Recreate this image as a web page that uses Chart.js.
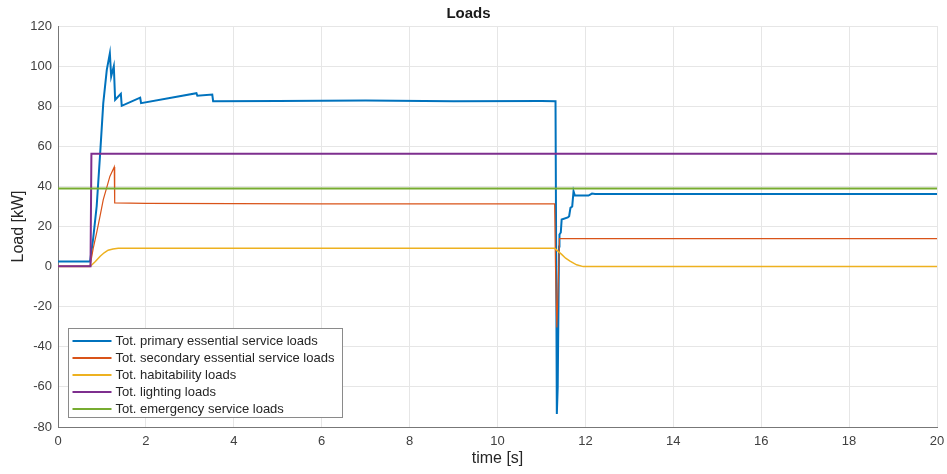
<!DOCTYPE html>
<html>
<head>
<meta charset="utf-8">
<title>Loads</title>
<script src="https://cdn.jsdelivr.net/npm/chart.js@4"></script>
<style>
  html, body { margin: 0; padding: 0; background: #fff; }
  canvas { display: block; }
</style>
</head>
<body>
<canvas id="chart" width="947" height="474"></canvas>
<script>
// time stamps [s] and load values [kW] per series
const primaryT = [0, 0.73, 0.80, 0.88, 0.96, 1.03, 1.11, 1.18, 1.21, 1.27, 1.30, 1.43, 1.45, 1.87, 1.89, 3.15, 3.17, 3.51, 3.53, 5, 7, 9, 11.0, 11.32, 11.35, 11.37, 11.40, 11.41, 11.44, 11.46, 11.60, 11.63, 11.66, 11.70, 11.73, 11.76, 12.07, 12.15, 12.22, 20];
const primaryLoad = [2.5, 2.5, 14, 30.1, 56.7, 81.5, 98.1, 106.4, 94.8, 100, 83.2, 86.2, 80.2, 84.3, 81.5, 86.5, 85.2, 85.8, 82.5, 82.6, 82.8, 82.5, 82.6, 82.5, -73.5, -60, 10, 16, 17, 23.5, 24.5, 25.1, 29.3, 30, 37.6, 35.4, 35.4, 36.4, 36.2, 36.2];

const secondaryT = [0, 0.73, 0.80, 0.88, 0.96, 1.03, 1.11, 1.18, 1.28, 1.29, 2, 6, 11.30, 11.32, 11.35, 11.38, 11.41, 20];
const secondaryLoad = [0.3, 0.3, 9, 16.9, 25.5, 33.4, 39.5, 45, 49.7, 31.8, 31.5, 31.3, 31.3, 0, -30.4, -10, 14, 14];

const habitabilityT = [0, 0.73, 0.85, 0.96, 1.05, 1.14, 1.25, 1.37, 5, 11.30, 11.40, 11.46, 11.55, 11.65, 11.80, 11.95, 20];
const habitabilityLoad = [0, 0, 2.5, 5.2, 6.9, 8.2, 8.8, 9.1, 9.1, 9.1, 7.2, 6.1, 4.2, 2.7, 0.9, 0, 0];

const lightingT = [0, 0.74, 0.76, 20];
const lightingLoad = [0.2, 0.2, 56.3, 56.3];

const emergencyT = [0, 20];
const emergencyLoad = [38.9, 38.9];

const seriesLabels = [
  'Tot. primary essential service loads',
  'Tot. secondary essential service loads',
  'Tot. habitability loads',
  'Tot. lighting loads',
  'Tot. emergency service loads'
];
const seriesColors = ['#0072BD', '#D95319', '#EDB120', '#7E2F8E', '#77AC30'];
const seriesWidths = [2, 1.2, 1.5, 2, 2];

const xTicks = [0, 2, 4, 6, 8, 10, 12, 14, 16, 18, 20];
const yTicks = [-80, -60, -40, -20, 0, 20, 40, 60, 80, 100, 120];

const toPoints = (ts, vs) => ts.map((t, i) => ({ x: t, y: vs[i] }));
const allT = [primaryT, secondaryT, habitabilityT, lightingT, emergencyT];
const allV = [primaryLoad, secondaryLoad, habitabilityLoad, lightingLoad, emergencyLoad];

const datasets = seriesLabels.map((label, i) => ({
  label: label,
  data: toPoints(allT[i], allV[i]),
  borderColor: seriesColors[i],
  backgroundColor: seriesColors[i],
  borderWidth: seriesWidths[i],
  pointRadius: 0,
  tension: 0,
  fill: false,
  order: seriesLabels.length - i // later series drawn on top, like matlab
}));

// legend box inside the plot area, bottom left
const boxLegend = {
  id: 'boxLegend',
  afterDraw(chart) {
    const ctx = chart.ctx;
    const area = chart.chartArea;
    const x0 = area.left + 10.5, y0 = 328.5, w = 274, h = 89;
    ctx.save();
    ctx.fillStyle = '#fff';
    ctx.fillRect(x0, y0, w, h);
    ctx.strokeStyle = '#8a8a8a';
    ctx.lineWidth = 1;
    ctx.strokeRect(x0, y0, w, h);
    ctx.font = '13px "Liberation Sans", Arial, sans-serif';
    ctx.textBaseline = 'middle';
    ctx.textAlign = 'left';
    chart.data.datasets.forEach((ds, i) => {
      const y = y0 + 12.5 + i * 17;
      ctx.strokeStyle = ds.borderColor;
      ctx.lineWidth = 2;
      ctx.beginPath();
      ctx.moveTo(x0 + 4, y);
      ctx.lineTo(x0 + 43, y);
      ctx.stroke();
      ctx.fillStyle = '#262626';
      ctx.fillText(ds.label, x0 + 47, y + 0.5);
    });
    ctx.restore();
  }
};

const tickFont = { family: '"Liberation Sans", Arial, sans-serif', size: 13 };
const titleFont = { family: '"Liberation Sans", Arial, sans-serif', size: 16 };

new Chart(document.getElementById('chart').getContext('2d'), {
  type: 'line',
  data: { datasets: datasets },
  options: {
    responsive: false,
    animation: false,
    devicePixelRatio: 1,
    layout: { padding: { left: 0, right: 10, top: 0, bottom: 0 } },
    plugins: {
      legend: { display: false },
      tooltip: { enabled: false },
      title: {
        display: true,
        text: 'Loads',
        color: '#1a1a1a',
        font: { family: '"Liberation Sans", Arial, sans-serif', size: 15, weight: 'bold' },
        padding: { top: 5, bottom: 3 }
      }
    },
    scales: {
      x: {
        type: 'linear',
        min: 0,
        max: 20,
        afterBuildTicks: (scale) => { scale.ticks = xTicks.map(v => ({ value: v })); },
        ticks: { font: tickFont, color: '#404040', padding: 7, maxRotation: 0 },
        grid: { color: '#e6e6e6', lineWidth: 1, drawTicks: false },
        border: { display: true, color: '#777', width: 1 },
        title: { display: true, text: 'time [s]', color: '#262626', font: titleFont, padding: { top: 0, bottom: 6 } },
        afterFit: (scale) => {
          scale.height = 47;
          scale.paddingLeft = 0;
          scale.paddingRight = 0;
        }
      },
      y: {
        type: 'linear',
        min: -80,
        max: 120,
        afterBuildTicks: (scale) => { scale.ticks = yTicks.map(v => ({ value: v })); },
        ticks: { font: tickFont, color: '#404040', padding: 6 },
        grid: { color: '#e6e6e6', lineWidth: 1, drawTicks: false },
        border: { display: true, color: '#777', width: 1 },
        title: { display: true, text: 'Load [kW]', color: '#262626', font: titleFont, padding: { top: 9, bottom: 0 } },
        afterFit: (scale) => { scale.width = 58; }
      }
    }
  },
  plugins: [boxLegend]
});
</script>
</body>
</html>
